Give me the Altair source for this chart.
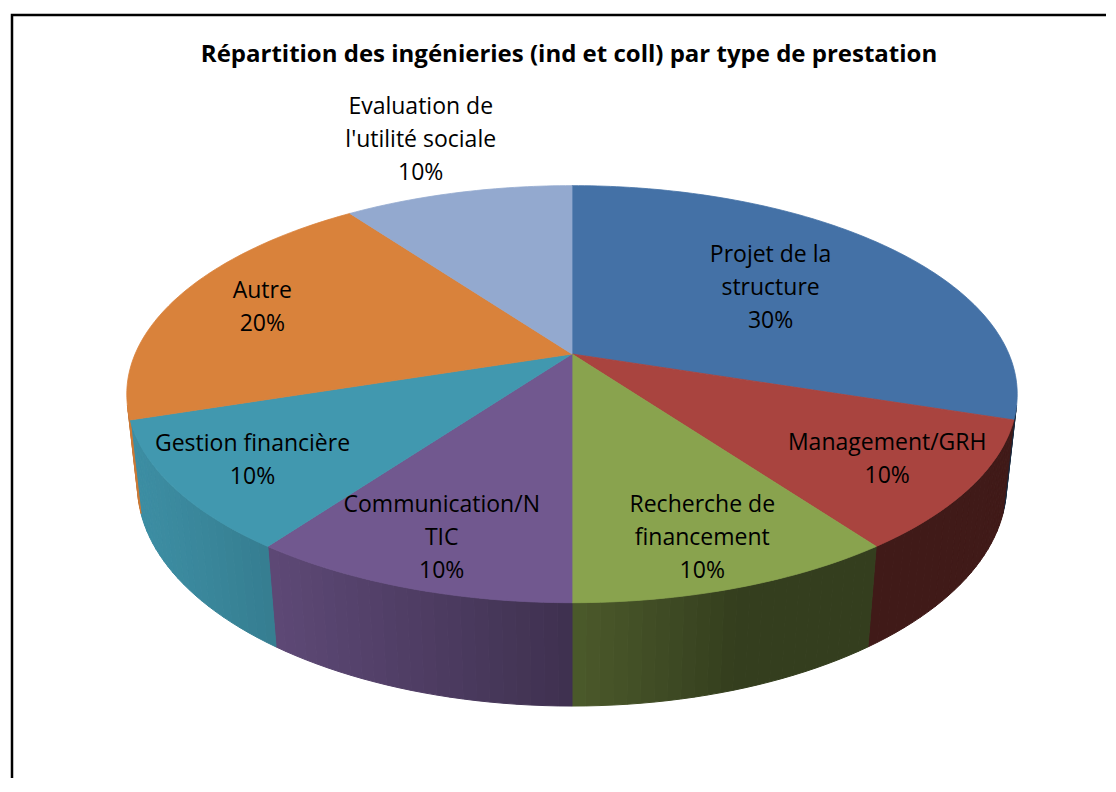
import math
import altair as alt
import pandas as pd

# ---------------- data ----------------
title_text = "Répartition des ingénieries (ind et coll) par type de prestation"
categories = ["Projet de la structure", "Management/GRH", "Recherche de financement",
              "Communication/NTIC", "Gestion financière", "Autre",
              "Evaluation de l'utilité sociale"]
percent = [30, 10, 10, 10, 10, 20, 10]
wrapped = [["Projet de la", "structure"], ["Management/GRH"], ["Recherche de", "financement"],
           ["Communication/N", "TIC"], ["Gestion financière"], ["Autre"],
           ["Evaluation de", "l'utilité sociale"]]
colors = ["#4471A6", "#A9443F", "#89A34E", "#71588F", "#4198AF", "#D9823B", "#93A9CF"]

# ---------------- layout (3D projection parameters) ----------------
W, H = 1098, 770
CX, CY = 572, 354
F = 2014.0
D = 4.61
S = 0.4596
C = math.sqrt(1 - S * S)
HGT = 0.2364
label_r = [0.60, 0.81, 0.82, 0.82, 0.82, 0.78, 1.41]
LH = 33
FONT = "Open Sans"


def proj(X, Y, Z):
    depth = D - (Y * S + Z * C)
    return CX + F * X / depth, CY - F * (Y * C - Z * S) / depth


def rim(theta_deg, r=1.0, Y=0.0):
    t = math.radians(theta_deg)
    return proj(r * math.sin(t), Y, -r * math.cos(t))


def shade(hexcol, k):
    h = hexcol.lstrip("#")
    rgb = [int(h[i:i + 2], 16) for i in (0, 2, 4)]
    return "#" + "".join(f"{max(0, min(255, int(round(v * k)))):02X}" for v in rgb)


def light(theta_deg):
    t = math.radians(theta_deg)
    nx, nz = math.sin(t), -math.cos(t)
    lx, lz = -0.95, 0.31
    return 0.38 + 0.55 * max(0.0, nx * lx + nz * lz)


vis = math.degrees(math.acos(-1.0 / (D * C)))
vis_lo, vis_hi = vis, 360 - vis

total = sum(percent)
top_rows, wall_rows, lab_rows = [], [], []
start = 0
for i, p in enumerate(percent):
    a0 = start / total * 360
    a1 = (start + p) / total * 360
    # top face
    n = max(2, int(math.ceil(a1 - a0)) + 1)
    pts = [proj(0, 0, 0)] + [rim(a0 + (a1 - a0) * j / (n - 1)) for j in range(n)]
    for k, (x, y) in enumerate(pts):
        top_rows.append(dict(poly=f"t{i}", k=k, x=x, y=y, col=colors[i]))
    # outer wall
    lo, hi = max(a0, vis_lo), min(a1, vis_hi)
    if lo < hi:
        m = max(1, int(math.ceil((hi - lo) / 1.5)))
        for q in range(m):
            t0 = lo + (hi - lo) * q / m
            t1 = lo + (hi - lo) * (q + 1) / m
            col = shade(colors[i], light((t0 + t1) / 2))
            quad = [rim(t0), rim(t1), rim(t1, Y=-HGT), rim(t0, Y=-HGT)]
            for k, (x, y) in enumerate(quad):
                wall_rows.append(dict(poly=f"w{i}_{q}", k=k, x=x, y=y, col=col))
    # label (block centred on the projected point)
    lines = wrapped[i] + [f"{p}%"]
    lx, ly = rim((a0 + a1) / 2, r=label_r[i])
    lab_rows.append(dict(x=lx, y=ly - (len(lines) - 1) * LH / 2, txt="\n".join(lines)))
    start += p

top_df = pd.DataFrame(top_rows)
wall_df = pd.DataFrame(wall_rows)
lab_df = pd.DataFrame(lab_rows)

xs = alt.Scale(domain=[8, 8 + W], nice=False, zero=False)
ys = alt.Scale(domain=[8, 8 + H], nice=False, zero=False, reverse=True)
X = alt.X("x:Q", scale=xs, axis=None)
Y = alt.Y("y:Q", scale=ys, axis=None)

border = alt.Chart(pd.DataFrame({"a": [0]})).mark_rect(
    filled=False, stroke="black", strokeWidth=2.5
).encode(x=alt.value(4), y=alt.value(7), x2=alt.value(1300), y2=alt.value(1100))

walls = alt.Chart(wall_df).mark_line(
    interpolate="linear-closed", filled=True, strokeWidth=1
).encode(
    x=X, y=Y, detail="poly:N", order="k:Q",
    fill=alt.Fill("col:N", scale=None), stroke=alt.Stroke("col:N", scale=None)
)

tops = alt.Chart(top_df).mark_line(
    interpolate="linear-closed", filled=True, strokeWidth=0.8
).encode(
    x=X, y=Y, detail="poly:N", order="k:Q",
    fill=alt.Fill("col:N", scale=None), stroke=alt.Stroke("col:N", scale=None)
)

labels = alt.Chart(lab_df).mark_text(
    font=FONT, fontSize=23, lineBreak="\n", lineHeight=LH,
    align="center", baseline="middle", color="black"
).encode(x=X, y=Y, text="txt:N")

title = alt.Chart(pd.DataFrame({"t": [title_text]})).mark_text(
    font=FONT, fontSize=24, fontWeight="bold", align="center", baseline="middle", color="black"
).encode(x=alt.value(569 - 8), y=alt.value(55 - 8), text="t:N")

chart = alt.layer(border, walls, tops, labels, title).properties(
    width=W, height=H, padding=0,
    autosize=alt.AutoSizeParams(type="none")
).configure_view(stroke=None)

chart.save("out.html", embed_options={"renderer": "svg", "actions": False})
